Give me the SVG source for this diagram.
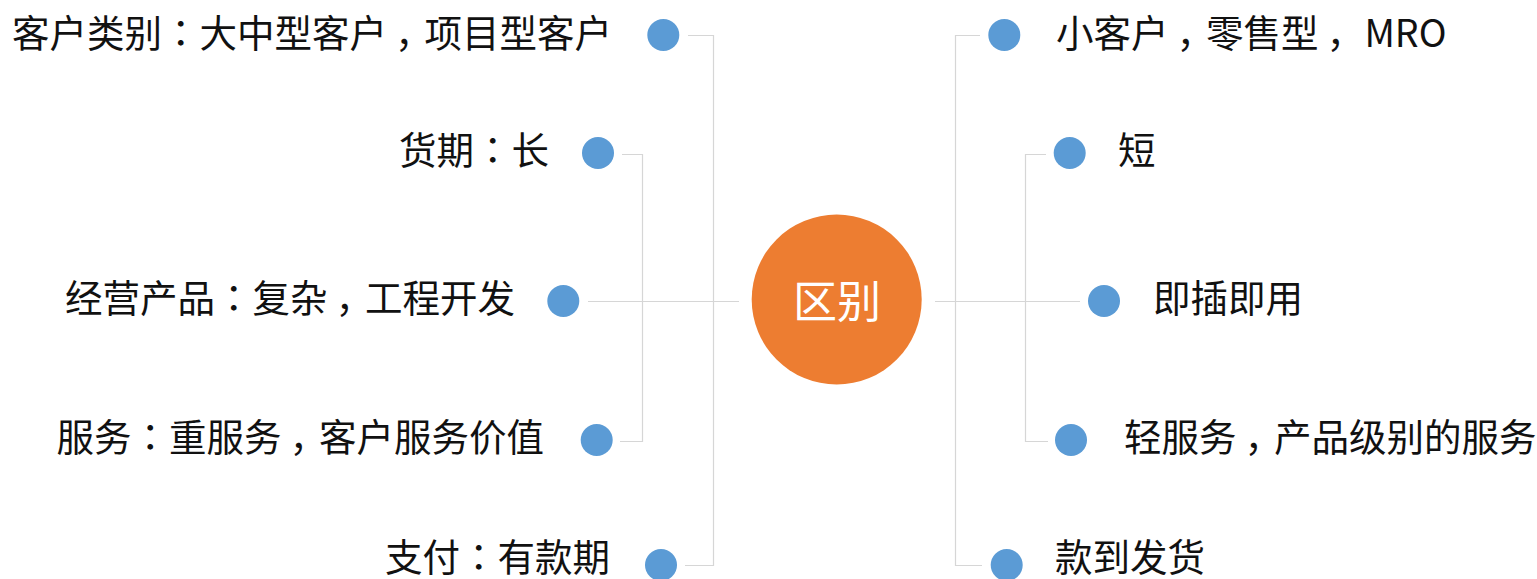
<svg xmlns="http://www.w3.org/2000/svg" width="1537" height="579" viewBox="0 0 1537 579">
<style>
.lbl{font-family:"Noto Sans CJK SC","Noto Sans",sans-serif;font-size:37.5px;fill:#111;}
.l{text-anchor:end;}
.p{font-family:"Noto Sans CJK KR","Noto Sans CJK SC",sans-serif;}
.a{letter-spacing:8px;}
.c{letter-spacing:-8px;}
.dot{fill:#5b9bd5;}
.con{fill:none;stroke:#d6d6d6;stroke-width:1.2;}
.center{font-family:"Noto Sans CJK SC","Noto Sans",sans-serif;font-size:44px;fill:#fff;text-anchor:middle;}
</style>
<rect width="1537" height="579" fill="#fff"/>
<g id="connectors">
<path class="con" d="M688 35.5H713.5V565.5H685"/>
<path class="con" d="M622 154.5H642.5V441.5H620"/>
<path class="con" d="M588 301.5H739"/>
<path class="con" d="M980 35.5H955.5V565.5H982"/>
<path class="con" d="M1046 154.5H1025.5V441.5H1048"/>
<path class="con" d="M935 301.5H1080"/>
</g>
<g id="center">
<circle cx="836.7" cy="299.5" r="85" fill="#ed7d31"/>
<text class="center" x="837" y="318">区别</text>
</g>
<g id="l1"><circle class="dot" cx="663.3" cy="35" r="16"/><text class="lbl l" x="612" y="47">客户类别<tspan class="p">：</tspan>大中型客<tspan class="a">户</tspan><tspan class="c">，</tspan>项目型客户</text></g>
<g id="l2"><circle class="dot" cx="598" cy="153" r="16"/><text class="lbl l" x="549" y="164">货期<tspan class="p">：</tspan>长</text></g>
<g id="l3"><circle class="dot" cx="563.3" cy="301" r="16"/><text class="lbl l" x="515" y="312">经营产品<tspan class="p">：</tspan>复<tspan class="a">杂</tspan><tspan class="c">，</tspan>工程开发</text></g>
<g id="l4"><circle class="dot" cx="596.7" cy="440" r="16"/><text class="lbl l" x="544" y="451">服务<tspan class="p">：</tspan>重服<tspan class="a">务</tspan><tspan class="c">，</tspan>客户服务价值</text></g>
<g id="l5"><circle class="dot" cx="661" cy="565" r="16"/><text class="lbl l" x="610" y="571">支付<tspan class="p">：</tspan>有款期</text></g>
<g id="r1"><circle class="dot" cx="1004.3" cy="35" r="16"/><text class="lbl" x="1056" y="47">小客<tspan class="a">户</tspan><tspan class="c">，</tspan>零售<tspan class="a">型</tspan><tspan class="c">，</tspan> MRO</text></g>
<g id="r2"><circle class="dot" cx="1069.7" cy="153" r="16"/><text class="lbl" x="1118" y="164">短</text></g>
<g id="r3"><circle class="dot" cx="1104" cy="301" r="16"/><text class="lbl" x="1153" y="312">即插即用</text></g>
<g id="r4"><circle class="dot" cx="1071" cy="440" r="16"/><text class="lbl" x="1124" y="451">轻服<tspan class="a">务</tspan><tspan class="c">，</tspan>产品级别的服务</text></g>
<g id="r5"><circle class="dot" cx="1006.7" cy="565" r="16"/><text class="lbl" x="1055" y="571">款到发货</text></g>
</svg>
